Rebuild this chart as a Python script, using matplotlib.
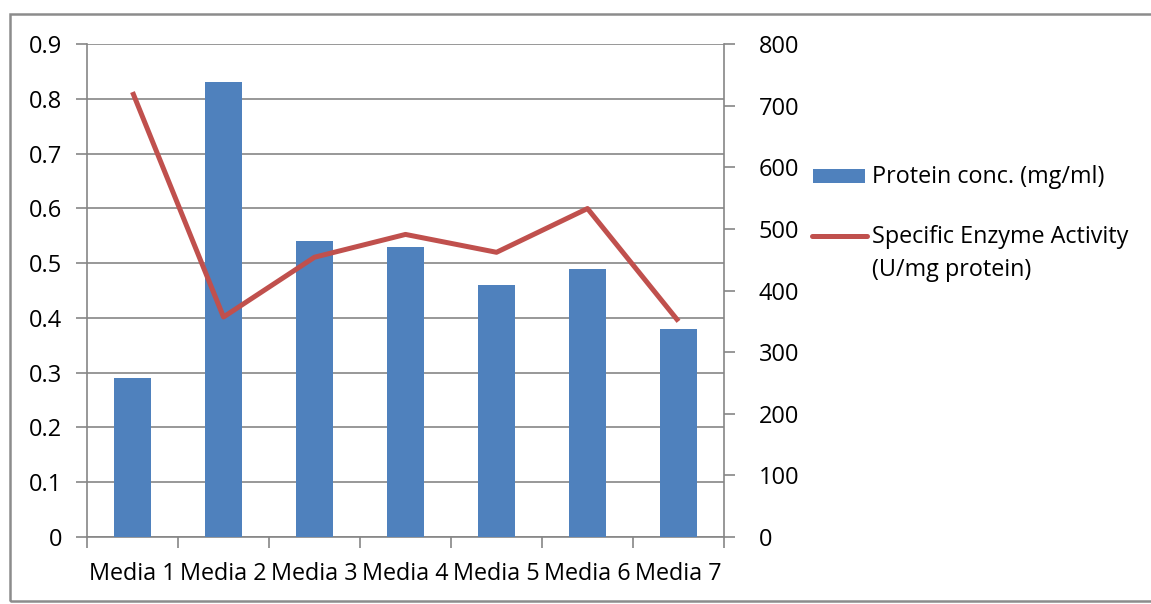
import matplotlib
matplotlib.use("Agg")
import matplotlib.pyplot as plt
from matplotlib.patches import Rectangle
from matplotlib.lines import Line2D
import numpy as np

categories = ["Media 1", "Media 2", "Media 3", "Media 4", "Media 5", "Media 6", "Media 7"]
protein = [0.29, 0.83, 0.54, 0.53, 0.46, 0.49, 0.38]
activity = [722, 357, 454, 491, 462, 533, 350]
series_names = ["Protein conc. (mg/ml)", "Specific Enzyme Activity\n(U/mg protein)"]

BAR_C = "#4F81BD"
LINE_C = "#C0504D"
GRID_C = "#868686"

plt.rcParams['font.family'] = ['Open Sans', 'DejaVu Sans']

W, H = 1151, 604
fig = plt.figure(figsize=(W/100, H/100), dpi=100)
fig.patch.set_facecolor("white")

# outer frame (right edge runs off the image)
fig.patches.append(Rectangle((10/W, 3/H), 1160/W, 587/H, transform=fig.transFigure,
                             fill=False, edgecolor="#8c8c8c", linewidth=1.8, zorder=0))

ax = fig.add_axes([87/W, 1-537/H, 637/W, 493/H])
x = np.arange(len(categories))
bars = ax.bar(x, protein, width=0.41, color=BAR_C, zorder=3)
ax.set_xlim(-0.5, 6.5)
ax.set_ylim(0, 0.9)
ax.set_yticks(np.arange(0, 0.91, 0.1))
ax.set_yticklabels(["0"] + [f"{v:.1f}" for v in np.arange(0.1, 0.91, 0.1)])
ax.yaxis.grid(True, color=GRID_C, linewidth=1.2, zorder=0)
ax.set_axisbelow(True)
ax.set_xticks(x)
ax.set_xticklabels(categories)
ax.tick_params(axis='x', length=0, labelsize=16.8, pad=18)
ax.set_xticks(np.arange(-0.5, 7.0, 1.0), minor=True)
ax.tick_params(axis='x', which='minor', length=8, color=GRID_C, width=1.2)
ax.tick_params(axis='y', length=8, color=GRID_C, width=1.2, labelsize=17, pad=10)
for s in ["top", "right"]:
    ax.spines[s].set_visible(False)
for s in ["left", "bottom"]:
    ax.spines[s].set_color(GRID_C)
    ax.spines[s].set_linewidth(1.2)

ax2 = ax.twinx()
line, = ax2.plot(x, activity, color=LINE_C, linewidth=3.6, zorder=4,
                 solid_capstyle="butt")
ax2.set_ylim(0, 800)
ax2.set_yticks(np.arange(0, 801, 100))
ax2.tick_params(axis='y', length=8, color=GRID_C, width=1.2, labelsize=17, pad=17)
for s in ["top", "left", "bottom"]:
    ax2.spines[s].set_visible(False)
ax2.spines["right"].set_color(GRID_C)
ax2.spines["right"].set_linewidth(1.2)

# legend (Excel style: line handle aligned with first text line)
fig.patches.append(Rectangle((813/W, 1-183/H), 52/W, 14/H, transform=fig.transFigure,
                             facecolor=BAR_C, edgecolor="none"))
fig.lines.append(Line2D([812/W, 867/W], [1-236/H, 1-236/H], transform=fig.transFigure,
                        color=LINE_C, linewidth=3.6, solid_capstyle="round"))
fig.text(872/W, 1-177/H, series_names[0], fontsize=16.8, va="center", ha="left")
fig.text(872/W, 1-225/H, series_names[1], fontsize=16.8, va="top", ha="left",
         linespacing=1.5)

fig.savefig("out.png", dpi=100)
